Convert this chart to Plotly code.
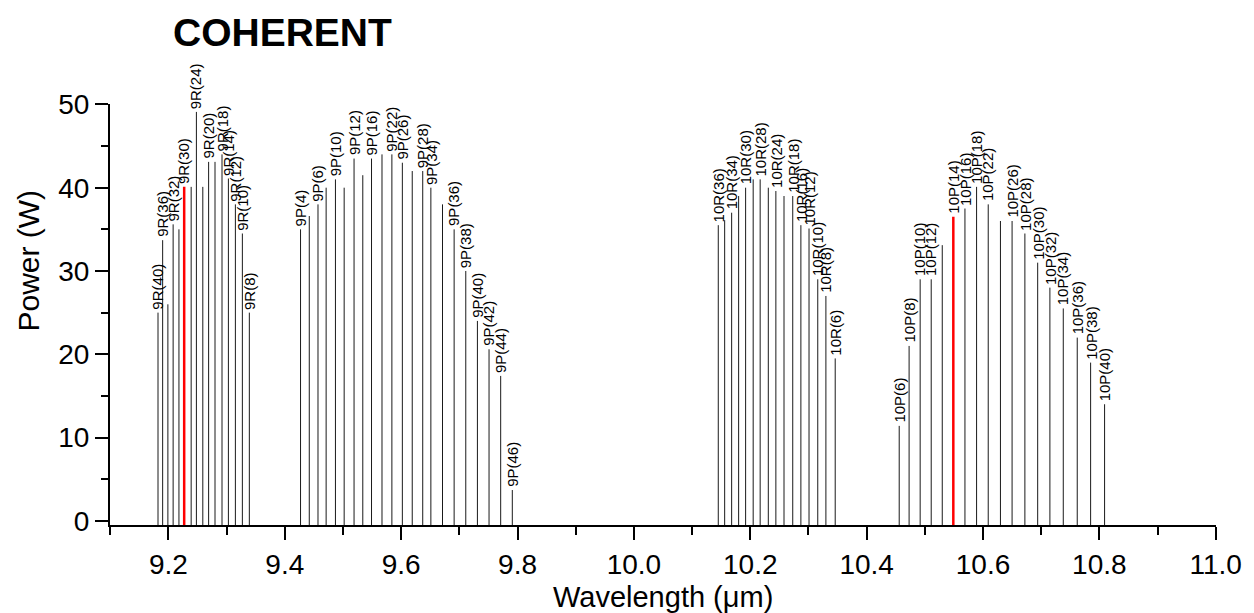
import plotly.graph_objects as go

# ---------------- data ----------------
wl_9R = [9.182, 9.190, 9.199, 9.208, 9.218, 9.227, 9.239, 9.248, 9.259, 9.269,
         9.280, 9.292, 9.303, 9.315, 9.327, 9.339]
pw_9R = [25.0, 33.7, 26.0, 35.6, 35.0, 40.1, 40.1, 49.1, 40.1, 43.1,
         43.1, 44.0, 41.1, 38.0, 34.5, 25.0]
lb_9R = ["9R(40)", "9R(36)", "", "9R(32)", "", "9R(30)", "", "9R(24)", "", "9R(20)",
         "", "9R(18)", "9R(14)", "9R(12)", "9R(10)", "9R(8)"]

wl_9P = [9.427, 9.442, 9.457, 9.471, 9.487, 9.502, 9.519, 9.534, 9.549, 9.567,
         9.584, 9.602, 9.619, 9.637, 9.651, 9.671, 9.691, 9.711, 9.731, 9.751,
         9.771, 9.791]
pw_9P = [35.0, 36.6, 38.0, 40.0, 41.0, 40.0, 43.5, 41.5, 43.5, 44.0,
         44.0, 43.0, 42.0, 42.0, 40.0, 38.0, 35.0, 30.0, 24.0, 20.6,
         17.4, 3.7]
lb_9P = ["9P(4)", "", "9P(6)", "", "9P(10)", "", "9P(12)", "", "9P(16)", "",
         "9P(22)", "9P(26)", "", "9P(28)", "9P(34)", "", "9P(36)", "9P(38)", "9P(40)", "9P(42)",
         "9P(44)", "9P(46)"]

wl_10R = [10.145, 10.156, 10.168, 10.180, 10.192, 10.205, 10.217, 10.231, 10.244, 10.258,
          10.273, 10.287, 10.301, 10.316, 10.330, 10.346]
pw_10R = [35.5, 36.1, 37.0, 39.0, 40.0, 41.0, 41.0, 40.0, 39.6, 39.0,
          39.0, 35.5, 35.1, 29.0, 27.0, 19.5]
lb_10R = ["10R(36)", "", "10R(34)", "", "10R(30)", "", "10R(28)", "", "10R(24)", "",
          "10R(18)", "10R(16)", "10R(12)", "10R(10)", "10R(8)", "10R(6)"]

wl_10P = [10.456, 10.473, 10.492, 10.511, 10.530, 10.549, 10.569, 10.589, 10.609, 10.630,
          10.650, 10.672, 10.694, 10.715, 10.738, 10.762, 10.785, 10.809]
pw_10P = [11.4, 21.0, 29.0, 29.0, 33.1, 36.5, 37.5, 40.1, 38.0, 36.0,
          36.0, 34.5, 31.0, 28.0, 25.5, 22.0, 19.0, 14.0]
lb_10P = ["10P(6)", "10P(8)", "10P(10)", "10P(12)", "", "10P(14)", "10P(16)", "10P(18)", "10P(22)", "",
          "10P(26)", "10P(28)", "10P(30)", "10P(32)", "10P(34)", "10P(36)", "10P(38)", "10P(40)"]

highlighted = ["9R(30)", "10P(14)"]

x_ticks = [9.2, 9.4, 9.6, 9.8, 10.0, 10.2, 10.4, 10.6, 10.8, 11.0]
y_ticks = [0, 10, 20, 30, 40, 50]

# ---------------- figure ----------------
FONT = "Liberation Sans, Arial, Helvetica, sans-serif"
Y_MIN, Y_MAX = -0.5, 50.05
X_MIN, X_MAX = 9.0995, 11.0005

wl = wl_9R + wl_9P + wl_10R + wl_10P
pw = pw_9R + pw_9P + pw_10R + pw_10P
lb = lb_9R + lb_9P + lb_10R + lb_10P

bx, by, rx, ry = [], [], [], []
for w, p, l in zip(wl, pw, lb):
    if l in highlighted:
        rx += [w, w, None]
        ry += [Y_MIN, p, None]
    else:
        bx += [w, w, None]
        by += [Y_MIN, p, None]

fig = go.Figure()
fig.add_trace(go.Scatter(x=bx, y=by, mode="lines",
                         line=dict(color="#1a1a1a", width=1), hoverinfo="skip",
                         showlegend=False))
fig.add_trace(go.Scatter(x=rx, y=ry, mode="lines",
                         line=dict(color="#ff0000", width=2.5), hoverinfo="skip",
                         showlegend=False))

annotations = []
for w, p, l in zip(wl, pw, lb):
    if not l:
        continue
    annotations.append(dict(x=w, y=p, xref="x", yref="y", text=l, showarrow=False,
                            textangle=-90, xanchor="center", yanchor="bottom",
                            xshift=0, yshift=1,
                            font=dict(family=FONT, size=15, color="black")))

annotations.append(dict(x=0.055, y=1.171, xref="paper", yref="paper",
                        text="<b>COHERENT</b>", showarrow=False,
                        xanchor="left", yanchor="middle",
                        font=dict(family=FONT, size=39, color="black")))
annotations.append(dict(x=0.5, y=-0.170, xref="paper", yref="paper",
                        text="Wavelength (\u03bcm)", showarrow=False,
                        xanchor="center", yanchor="middle",
                        font=dict(family=FONT, size=29, color="black")))
annotations.append(dict(x=-0.0738, y=0.629, xref="paper", yref="paper",
                        text="Power (W)", showarrow=False, textangle=-90,
                        xanchor="center", yanchor="middle",
                        font=dict(family=FONT, size=30, color="black")))

fig.update_layout(
    width=1254, height=613,
    margin=dict(l=110, r=33, t=104, b=88),
    paper_bgcolor="white", plot_bgcolor="white",
    font=dict(family=FONT, color="black"),
    annotations=annotations,
    xaxis=dict(range=[X_MIN, X_MAX], tickmode="array", tickvals=x_ticks,
               ticktext=[f"{v:.1f}" for v in x_ticks],
               ticks="outside", ticklen=13, tickwidth=2, tickcolor="black",
               showline=True, linewidth=2, linecolor="black", showgrid=False,
               zeroline=False, tickfont=dict(family=FONT, size=28, color="black"),
               minor=dict(tick0=9.1, dtick=0.1, ticks="outside", ticklen=8,
                          tickwidth=2, tickcolor="black", showgrid=False)),
    yaxis=dict(range=[Y_MIN, Y_MAX], tickmode="array", tickvals=y_ticks,
               ticks="outside", ticklen=13, tickwidth=2, tickcolor="black",
               showline=True, linewidth=2, linecolor="black", showgrid=False,
               zeroline=False, tickfont=dict(family=FONT, size=28, color="black"),
               minor=dict(tick0=0, dtick=5, ticks="outside", ticklen=7,
                          tickwidth=2, tickcolor="black", showgrid=False)),
)

fig.write_html("out.html")
